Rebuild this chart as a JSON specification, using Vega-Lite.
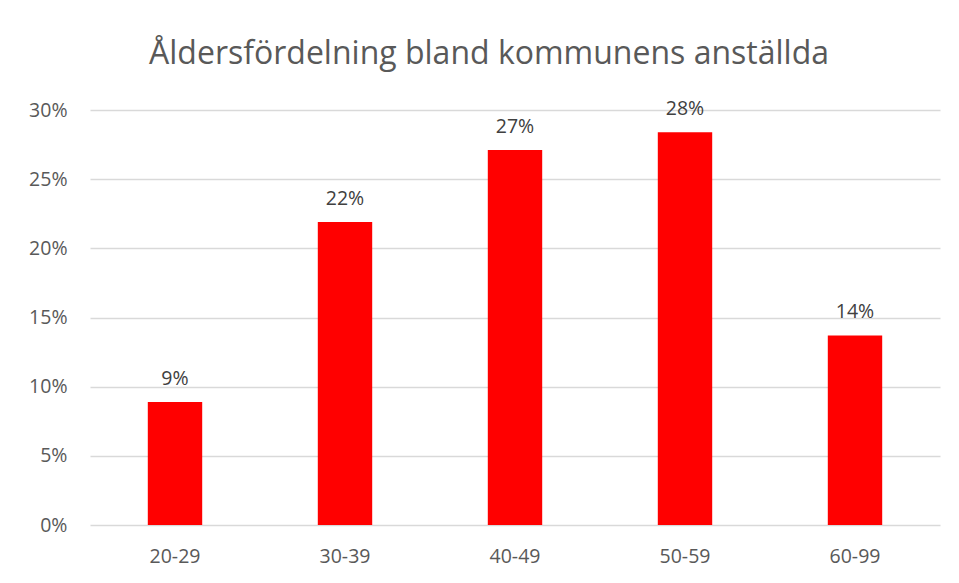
{
  "$schema": "https://vega.github.io/schema/vega-lite/v6.json",
  "width": 850,
  "height": 415,
  "autosize": "none",
  "padding": {"left": 90, "top": 110, "right": 19, "bottom": 58},
  "background": "white",
  "title": {
    "text": "Åldersfördelning bland kommunens anställda",
    "font": "Open Sans",
    "fontSize": 32,
    "fontWeight": "normal",
    "color": "#595959",
    "anchor": "middle",
    "dx": -26,
    "offset": 28
  },
  "data": {
    "values": [
      {"age": "20-29", "share": 0.089},
      {"age": "30-39", "share": 0.219},
      {"age": "40-49", "share": 0.271},
      {"age": "50-59", "share": 0.284},
      {"age": "60-99", "share": 0.137}
    ]
  },
  "encoding": {
    "x": {
      "field": "age",
      "type": "nominal",
      "sort": null,
      "scale": {"paddingInner": 0.68, "paddingOuter": 0.34},
      "axis": {
        "title": null,
        "labelAngle": 0,
        "labelFont": "Open Sans",
        "labelFontSize": 19.5,
        "labelColor": "#595959",
        "ticks": false,
        "domain": false,
        "labelPadding": 22
      }
    },
    "y": {
      "field": "share",
      "type": "quantitative",
      "scale": {"domain": [0, 0.3], "nice": false},
      "axis": {
        "title": null,
        "format": ".0%",
        "values": [0, 0.05, 0.1, 0.15, 0.2, 0.25, 0.3],
        "labelFont": "Open Sans",
        "labelFontSize": 19.5,
        "labelColor": "#595959",
        "ticks": false,
        "domain": false,
        "labelPadding": 23,
        "gridColor": "#d9d9d9",
        "gridWidth": 1.3
      }
    }
  },
  "layer": [
    {"mark": {"type": "bar", "color": "#ff0000"}},
    {
      "mark": {
        "type": "text",
        "font": "Open Sans",
        "fontSize": 19.5,
        "color": "#404040",
        "baseline": "alphabetic",
        "dy": -17
      },
      "encoding": {"text": {"field": "share", "format": ".0%"}}
    }
  ],
  "config": {"view": {"stroke": null}}
}
